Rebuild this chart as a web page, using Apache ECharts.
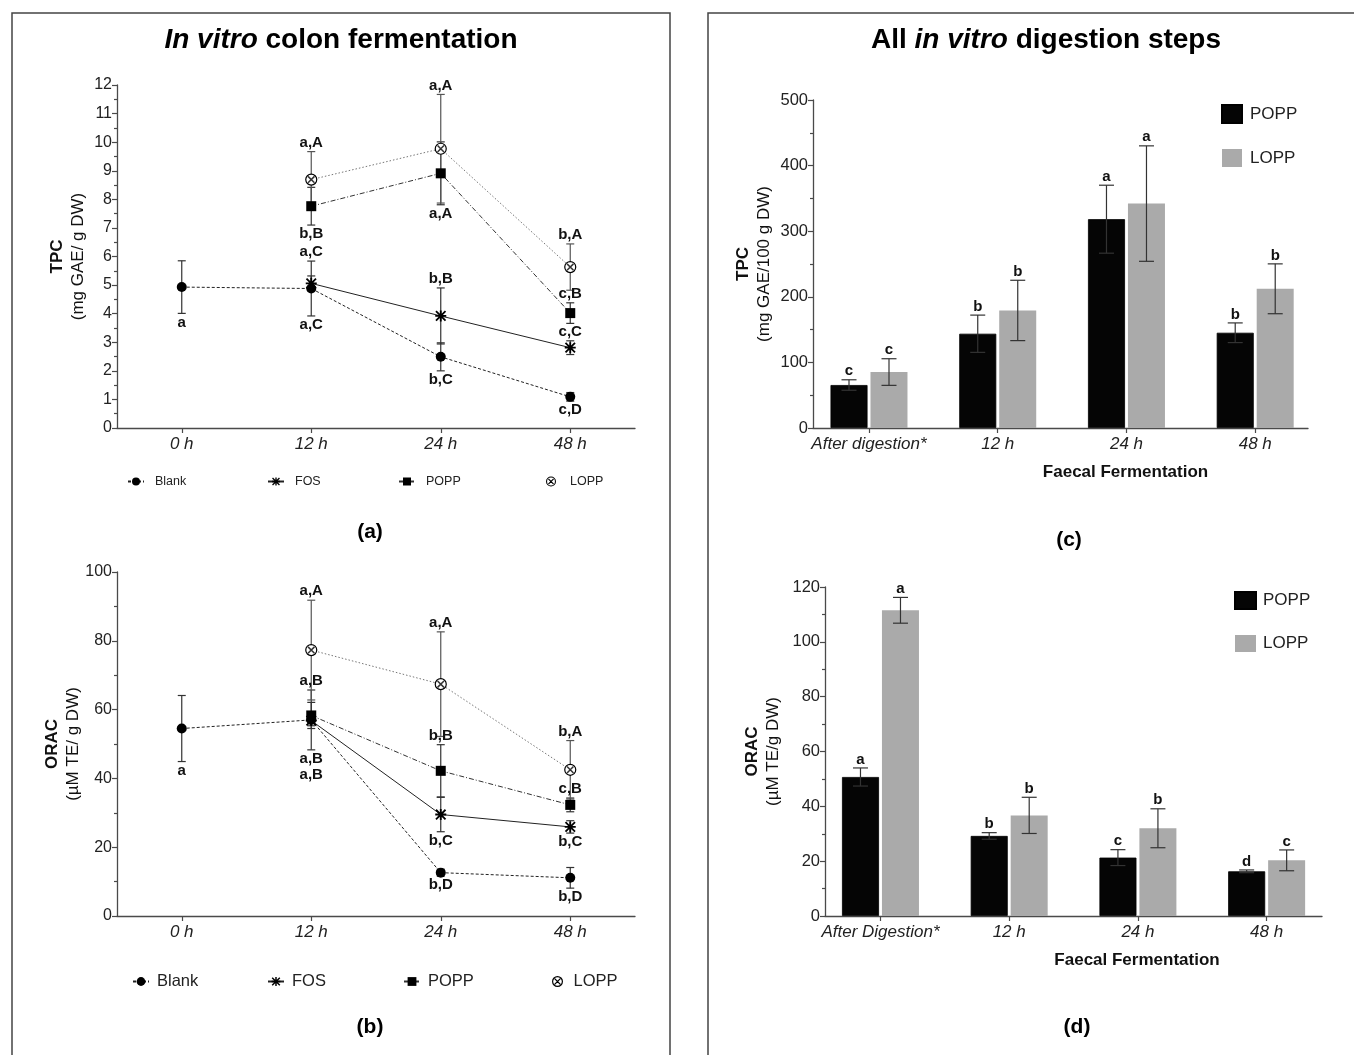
<!DOCTYPE html>
<html><head><meta charset="utf-8">
<script src="https://cdn.jsdelivr.net/npm/echarts@6/dist/echarts.min.js"></script>
<style>html,body{margin:0;padding:0;background:#fff}#c{width:1354px;height:1055px}</style>
</head><body><div id="c"></div>
<script>
// ================= DATA =================
const timeLabels = ['0 h', '12 h', '24 h', '48 h'];
const groupNames = ['Blank', 'FOS', 'POPP', 'LOPP'];

// (a) TPC, in vitro colon fermentation (mg GAE/ g DW)
const tpcBlank    = [4.93, 4.88, 2.49, 1.09];
const tpcBlankErr = [0.92, 0.96, 0.49, 0.15];
const tpcBlankLbl = ['a', 'a,C', 'b,C', 'c,D'];
const tpcBlankSide = ['bottom', 'bottom', 'bottom', 'bottom'];
const tpcFOS    = [null, 5.06, 3.92, 2.81];
const tpcFOSErr = [null, 0.26, 0.98, 0.24];
const tpcFOSLbl = [null, 'a,C', 'b,B', 'c,C'];
const tpcFOSSide = [null, 'top', 'top', 'top'];
const tpcPOPP    = [null, 7.76, 8.91, 4.02];
const tpcPOPPErr = [null, 0.66, 1.10, 0.36];
const tpcPOPPLbl = [null, 'b,B', 'a,A', 'c,B'];
const tpcPOPPSide = [null, 'bottom', 'bottom', 'top'];
const tpcLOPP    = [null, 8.69, 9.77, 5.63];
const tpcLOPPErr = [null, 0.98, 1.90, 0.81];
const tpcLOPPLbl = [null, 'a,A', 'a,A', 'b,A'];
const tpcLOPPSide = [null, 'top', 'top', 'top'];

// (b) ORAC, in vitro colon fermentation (µM TE/ g DW)
const oracBlank    = [54.5, 57.0, 12.6, 11.1];
const oracBlankErr = [9.6, 8.7, 1.0, 3.0];
const oracBlankLbl = ['a', 'a,B', 'b,D', 'b,D'];
const oracBlankSide = ['bottom', 'bottom', 'bottom', 'bottom'];
const oracFOS    = [null, 56.8, 29.5, 25.9];
const oracFOSErr = [null, 1.5, 5.0, 1.8];
const oracFOSLbl = [null, 'a,B', 'b,C', 'b,C'];
const oracFOSSide = [null, 'bottom', 'bottom', 'bottom'];
const oracPOPP    = [null, 58.3, 42.2, 32.3];
const oracPOPPErr = [null, 3.8, 7.6, 2.0];
const oracPOPPLbl = [null, 'a,B', 'b,B', 'c,B'];
const oracPOPPSide = [null, 'top', 'top', 'top'];
const oracLOPP    = [null, 77.3, 67.4, 42.5];
const oracLOPPErr = [null, 14.5, 15.2, 8.5];
const oracLOPPLbl = [null, 'a,A', 'a,A', 'b,A'];
const oracLOPPSide = [null, 'top', 'top', 'top'];

// (c) TPC, all digestion steps (mg GAE/100 g DW)
const stepLabelsC = ['After digestion*', '12 h', '24 h', '48 h'];
const tpcBarPOPP    = [65.5, 143.7, 318.3, 145.2];
const tpcBarPOPPErr = [8, 28.4, 51.8, 15];
const tpcBarPOPPLbl = ['c', 'b', 'a', 'b'];
const tpcBarLOPP    = [85.3, 179.2, 342.1, 212.2];
const tpcBarLOPPErr = [20.3, 46, 88, 38];
const tpcBarLOPPLbl = ['c', 'b', 'a', 'b'];

// (d) ORAC, all digestion steps (µM TE/g DW)
const stepLabelsD = ['After Digestion*', '12 h', '24 h', '48 h'];
const oracBarPOPP    = [50.7, 29.2, 21.3, 16.3];
const oracBarPOPPErr = [3.3, 1.2, 2.9, 0.5];
const oracBarPOPPLbl = ['a', 'b', 'c', 'd'];
const oracBarLOPP    = [111.5, 36.7, 32.0, 20.3];
const oracBarLOPPErr = [4.7, 6.6, 7.1, 3.8];
const oracBarLOPPLbl = ['a', 'b', 'b', 'c'];

// ================= STYLE =================
const FONT = '"Liberation Sans", Arial, Helvetica, sans-serif';
const INK = '#111';
const AXIS = '#4a4a4a';
const SYM_AST = 'path://M-1,-6L1,-6L1,6L-1,6Z M-6,-1L6,-1L6,1L-6,1Z M-4.5,-5.9L5.9,4.5L4.5,5.9L-5.9,-4.5Z M4.5,-5.9L5.9,-4.5L-4.5,5.9L-5.9,4.5Z';
const SYM_X = 'path://M-4.2,-3L-3,-4.2L4.2,3L3,4.2Z M3,-4.2L4.2,-3L-3,4.2L-4.2,3Z';
const SYM_OX = 'path://M0,-6A6,6,0,1,1,0,6A6,6,0,1,1,0,-6Z M0,-4.7A4.7,4.7,0,1,0,0,4.7A4.7,4.7,0,1,0,0,-4.7Z M-3.6,-2.6L-2.6,-3.6L3.6,2.6L2.6,3.6Z M2.6,-3.6L3.6,-2.6L-2.6,3.6L-3.6,2.6Z';

const groupStyles = [
  { symbol: 'circle', size: 10, line: { color: '#222', width: 1, type: [3, 2] }, item: { color: '#000' }, err: '#333' },
  { symbol: SYM_AST, size: 11, line: { color: '#222', width: 1, type: 'solid' }, item: { color: '#000' }, err: '#333' },
  { symbol: 'rect', size: 10, line: { color: '#333', width: 1, type: [5, 2, 1, 2] }, item: { color: '#000' }, err: '#333' },
  { symbol: 'circle', size: 11, line: { color: '#777', width: 1, type: [1.5, 2] }, item: { color: '#fff', borderColor: '#000', borderWidth: 1.2 }, err: '#555' }
];

const panelA = { gi: 0, tag: 'a', groups: [
  { v: tpcBlank, e: tpcBlankErr, l: tpcBlankLbl, s: tpcBlankSide },
  { v: tpcFOS, e: tpcFOSErr, l: tpcFOSLbl, s: tpcFOSSide },
  { v: tpcPOPP, e: tpcPOPPErr, l: tpcPOPPLbl, s: tpcPOPPSide },
  { v: tpcLOPP, e: tpcLOPPErr, l: tpcLOPPLbl, s: tpcLOPPSide }] };
const panelB = { gi: 1, tag: 'b', groups: [
  { v: oracBlank, e: oracBlankErr, l: oracBlankLbl, s: oracBlankSide },
  { v: oracFOS, e: oracFOSErr, l: oracFOSLbl, s: oracFOSSide },
  { v: oracPOPP, e: oracPOPPErr, l: oracPOPPLbl, s: oracPOPPSide },
  { v: oracLOPP, e: oracLOPPErr, l: oracLOPPLbl, s: oracLOPPSide }] };

const LBL_FONT = 'bold 15px ' + FONT;

function labelY(panel, xi, si, api) {
  const OFF = 9, STEP = 16.5;
  const items = panel.groups.map((g, k) => ({ k, v: g.v[xi], e: g.e[xi], side: g.s[xi], lbl: g.l[xi] }))
    .filter(o => o.v != null);
  const me = items.find(o => o.k === si);
  if (me.side === 'top') {
    const list = items.filter(o => o.side === 'top' && o.lbl).sort((a, b) => a.v - b.v);
    let prev = Infinity;
    for (const o of list) {
      const anchor = Math.max(...items.filter(p => p.v <= o.v).map(p => p.v + p.e));
      let y = api.coord([xi, anchor])[1] - OFF;
      if (y > prev - STEP) y = prev - STEP;
      prev = y;
      if (o.k === si) return y;
    }
  } else {
    const list = items.filter(o => o.side === 'bottom' && o.lbl).sort((a, b) => b.v - a.v);
    let prev = -Infinity;
    for (const o of list) {
      const anchor = Math.min(...items.filter(p => p.v >= o.v).map(p => p.v - p.e));
      let y = api.coord([xi, anchor])[1] + OFF;
      if (y < prev + STEP) y = prev + STEP;
      prev = y;
      if (o.k === si) return y;
    }
  }
  return null;
}

function linePanelSeries(panel) {
  const out = [];
  const data = [];
  panel.groups.forEach((g, si) => g.v.forEach((v, xi) => { if (v != null) data.push([xi, v, g.e[xi], si]); }));
  out.push({
    type: 'custom', name: 'err·' + panel.tag, xAxisIndex: panel.gi, yAxisIndex: panel.gi, z: 1, silent: true,
    data: data, encode: { x: 0, y: 1 },
    renderItem: function (params, api) {
      const xi = api.value(0), v = api.value(1), e = api.value(2), si = api.value(3);
      const x = api.coord([xi, v])[0];
      const yT = api.coord([xi, v + e])[1], yB = api.coord([xi, v - e])[1];
      const st = { stroke: groupStyles[si].err, lineWidth: 1.2 };
      const hw = 4;
      return { type: 'group', children: [
        { type: 'line', shape: { x1: x, y1: yT, x2: x, y2: yB }, style: st },
        { type: 'line', shape: { x1: x - hw, y1: yT, x2: x + hw, y2: yT }, style: st },
        { type: 'line', shape: { x1: x - hw, y1: yB, x2: x + hw, y2: yB }, style: st }
      ] };
    }
  });
  panel.groups.forEach((g, si) => {
    const gs = groupStyles[si];
    out.push({
      type: 'line', name: groupNames[si] + '·' + panel.tag, xAxisIndex: panel.gi, yAxisIndex: panel.gi, z: 2,
      data: g.v.map(v => v == null ? '-' : v), symbol: gs.symbol, symbolSize: gs.size,
      lineStyle: gs.line, itemStyle: gs.item, silent: true
    });
  });
  out.push({
    type: 'scatter', name: 'LOPPx·' + panel.tag, xAxisIndex: panel.gi, yAxisIndex: panel.gi, z: 5, silent: true,
    data: panel.groups[3].v.map(v => v == null ? '-' : v), symbol: SYM_X, symbolSize: 7.5, itemStyle: { color: '#000' }
  });
  out.push({
    type: 'custom', name: 'lbl·' + panel.tag, xAxisIndex: panel.gi, yAxisIndex: panel.gi, z: 6, silent: true,
    data: data, encode: { x: 0, y: 1 },
    renderItem: function (params, api) {
      const xi = api.value(0), v = api.value(1), si = api.value(3);
      const txt = panel.groups[si].l[xi];
      if (!txt) return null;
      const x = api.coord([xi, v])[0];
      const y = labelY(panel, xi, si, api);
      return { type: 'text', x: x, y: y, style: { text: txt, align: 'center', verticalAlign: 'middle', font: LBL_FONT, fill: INK } };
    }
  });
  return out;
}

const BAR_W = 37, BAR_OFF = 20;
function barPanelSeries(gi, tag, popp, poppErr, poppLbl, lopp, loppErr, loppLbl) {
  const out = [
    { type: 'bar', name: 'POPP·' + tag, xAxisIndex: gi, yAxisIndex: gi, barWidth: BAR_W, barGap: '8%', z: 2, silent: true,
      data: popp.map((v, i) => [i, v]), itemStyle: { color: '#050505', borderColor: '#000', borderWidth: 0.8 } },
    { type: 'bar', name: 'LOPP·' + tag, xAxisIndex: gi, yAxisIndex: gi, barWidth: BAR_W, barGap: '8%', z: 2, silent: true,
      data: lopp.map((v, i) => [i, v]), itemStyle: { color: '#aaaaaa' } }
  ];
  const sets = [[popp, poppErr, poppLbl], [lopp, loppErr, loppLbl]];
  const data = [];
  sets.forEach((s, si) => s[0].forEach((v, xi) => data.push([xi, v, s[1][xi], si])));
  out.push({
    type: 'custom', name: 'errbar·' + tag, xAxisIndex: gi, yAxisIndex: gi, z: 4, silent: true,
    data: data, encode: { x: 0, y: 1 },
    renderItem: function (params, api) {
      const xi = api.value(0), v = api.value(1), e = api.value(2), si = api.value(3);
      const x = api.coord([xi, v])[0] + (si === 0 ? -BAR_OFF : BAR_OFF);
      const yT = api.coord([xi, v + e])[1], yB = api.coord([xi, v - e])[1];
      const st = { stroke: '#333', lineWidth: 1.2 };
      const hw = 7.5;
      return { type: 'group', children: [
        { type: 'line', shape: { x1: x, y1: yT, x2: x, y2: yB }, style: st },
        { type: 'line', shape: { x1: x - hw, y1: yT, x2: x + hw, y2: yT }, style: st },
        { type: 'line', shape: { x1: x - hw, y1: yB, x2: x + hw, y2: yB }, style: st },
        { type: 'text', x: x, y: yT - 1, style: { text: sets[si][2][xi], align: 'center', verticalAlign: 'bottom', font: LBL_FONT, fill: INK } }
      ] };
    }
  });
  return out;
}

function yName(bold, sub, gap, size) {
  return {
    name: '{t|' + bold + '}\n{s|' + sub + '}', nameLocation: 'middle', nameRotate: 90, nameGap: gap,
    nameTextStyle: { rich: {
      t: { fontFamily: FONT, fontWeight: 'bold', fontSize: size, lineHeight: 21, color: INK },
      s: { fontFamily: FONT, fontSize: size, lineHeight: 21, color: INK } } }
  };
}
const axisLineCfg = { show: true, onZero: false, lineStyle: { color: AXIS, width: 1.3 } };
const tickStyle = { color: AXIS, width: 1.2 };

function yAxisCfg(gi, max, interval, fs, nm) {
  return Object.assign({
    type: 'value', gridIndex: gi, min: 0, max: max, interval: interval,
    axisLine: axisLineCfg, axisTick: { show: true, length: 5, lineStyle: tickStyle },
    minorTick: { show: true, splitNumber: 2, length: 3, lineStyle: tickStyle },
    splitLine: { show: false }, minorSplitLine: { show: false },
    axisLabel: { fontFamily: FONT, fontSize: fs, color: '#222', margin: 5 }
  }, nm);
}
function xCatCfg(gi) {
  return {
    type: 'category', gridIndex: gi, data: timeLabels, boundaryGap: true,
    axisLine: axisLineCfg, axisTick: { show: true, alignWithLabel: true, length: 5, lineStyle: tickStyle },
    axisLabel: { fontFamily: FONT, fontSize: 17, fontStyle: 'italic', color: '#222', margin: 8 }
  };
}
function xBarCfg(gi, cats, min, max, namePad) {
  return {
    type: 'value', gridIndex: gi, min: min, max: max, splitLine: { show: false },
    axisLine: axisLineCfg,
    axisTick: { show: true, length: 5, lineStyle: tickStyle, customValues: [0, 1, 2, 3] },
    axisLabel: { fontFamily: FONT, fontSize: 17, fontStyle: 'italic', color: '#222', margin: 8,
      customValues: [0, 1, 2, 3], formatter: v => cats[Math.round(v)] },
    name: 'Faecal Fermentation', nameLocation: 'middle', nameGap: 36,
    nameTextStyle: { fontFamily: FONT, fontSize: 17, fontWeight: 'bold', color: INK, padding: [0, 0, 0, namePad] }
  };
}

function lineLegend(tag, name, left, top, fs, iw, ih, pad) {
  const item = { name: name + '·' + tag };
  if (name === 'LOPP') { item.icon = SYM_OX; item.itemStyle = { color: '#000', borderWidth: 0 }; }
  return {
    data: [item], left: left, top: top, padding: 0, itemWidth: iw, itemHeight: ih, selectedMode: false,
    formatter: n => n.split('·')[0],
    textStyle: { fontFamily: FONT, fontSize: fs, color: '#222', padding: [0, 0, 0, pad] }
  };
}

const legendsA = [['Blank', 127], ['FOS', 267], ['POPP', 398], ['LOPP', 546]].map(p => lineLegend('a', p[0], p[1], 475, 12.5, 16, 10, 6));
const legendsB = [['Blank', 132], ['FOS', 267], ['POPP', 403], ['LOPP', 552]].map(p => lineLegend('b', p[0], p[1], 973, 16.5, 16, 11, 3));
const barLegend = (tag, left, top, iw, ih, gap, pad) => ({
  data: ['POPP·' + tag, 'LOPP·' + tag], orient: 'vertical', left: left, top: top, padding: 0, itemWidth: iw, itemHeight: ih,
  itemGap: gap, icon: 'rect', selectedMode: false, formatter: n => n.split('·')[0],
  textStyle: { fontFamily: FONT, fontSize: 17, color: '#222', padding: [0, 0, 0, pad] }
});

const txt = (x, y, text, size, extra) => ({
  type: 'text', x: x, y: y, silent: true,
  style: Object.assign({ text: text, align: 'center', verticalAlign: 'middle', fill: '#000',
    fontFamily: FONT, fontSize: size, fontWeight: 'bold' }, extra || {})
});

const option = {
  animation: false,
  backgroundColor: '#fff',
  grid: [
    { left: 117, top: 85, width: 518, height: 343 },
    { left: 117, top: 572, width: 518, height: 344 },
    { left: 813, top: 100, width: 495, height: 328 },
    { left: 825, top: 587, width: 497, height: 329 }
  ],
  xAxis: [
    xCatCfg(0), xCatCfg(1),
    xBarCfg(2, stepLabelsC, -0.435, 3.41, 130),
    xBarCfg(3, stepLabelsD, -0.431, 3.43, 127)
  ],
  yAxis: [
    yAxisCfg(0, 12, 1, 16, yName('TPC', '(mg GAE/ g DW)', 28, 17)),
    yAxisCfg(1, 100, 20, 16, yName('ORAC', '(µM TE/ g DW)', 28, 17)),
    yAxisCfg(2, 500, 100, 16.5, yName('TPC', '(mg GAE/100 g DW)', 38, 17)),
    yAxisCfg(3, 120, 20, 16.5, yName('ORAC', '(µM TE/g DW)', 41, 17))
  ],
  legend: legendsA.concat(legendsB, [
    barLegend('c', 1221, 104, 20, 18, 25, 3),
    barLegend('d', 1234, 591, 21, 17, 25, 2)
  ]),
  graphic: [
    { type: 'rect', silent: true, shape: { x: 12, y: 13, width: 658, height: 1100 }, style: { fill: 'none', stroke: '#444', lineWidth: 1.5 } },
    { type: 'rect', silent: true, shape: { x: 708, y: 13, width: 700, height: 1100 }, style: { fill: 'none', stroke: '#444', lineWidth: 1.5 } },
    txt(341, 40, '{i|In vitro} colon fermentation', 28, { rich: { i: { fontFamily: FONT, fontSize: 28, fontWeight: 'bold', fontStyle: 'italic' } } }),
    txt(1046, 40, 'All {i|in vitro} digestion steps', 28, { rich: { i: { fontFamily: FONT, fontSize: 28, fontWeight: 'bold', fontStyle: 'italic' } } }),
    txt(370, 532, '(a)', 21),
    txt(370, 1027, '(b)', 21),
    txt(1069, 540, '(c)', 21),
    txt(1077, 1027, '(d)', 21)
  ],
  series: [].concat(
    linePanelSeries(panelA),
    linePanelSeries(panelB),
    barPanelSeries(2, 'c', tpcBarPOPP, tpcBarPOPPErr, tpcBarPOPPLbl, tpcBarLOPP, tpcBarLOPPErr, tpcBarLOPPLbl),
    barPanelSeries(3, 'd', oracBarPOPP, oracBarPOPPErr, oracBarPOPPLbl, oracBarLOPP, oracBarLOPPErr, oracBarLOPPLbl)
  )
};

const chart = echarts.init(document.getElementById('c'), null, { renderer: 'canvas' });
chart.setOption(option);
</script>
</body></html>
